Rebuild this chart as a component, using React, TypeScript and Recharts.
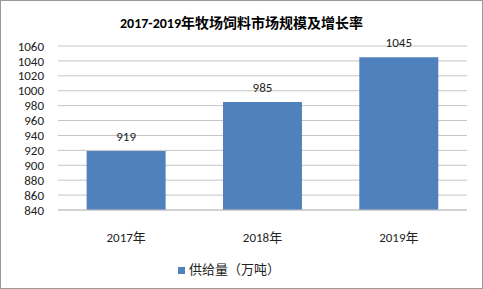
import { BarChart, Bar, XAxis, YAxis, CartesianGrid, Legend, LabelList } from "recharts";

const years = ["2017年", "2018年", "2019年"];
const supply = [919, 985, 1045];
const yTicks = [840, 860, 880, 900, 920, 940, 960, 980, 1000, 1020, 1040, 1060];

const data = years.map((year, i) => ({ year, supply: supply[i] }));

const font = "Calibri, Carlito, 'Liberation Sans', 'Noto Sans CJK SC', sans-serif";

export default function App() {
  return (
    <div
      style={{
        position: "fixed",
        left: 0,
        top: 0,
        width: 483,
        height: 289,
        boxSizing: "border-box",
        border: "1px solid #9a9a9a",
        background: "#fff",
        fontFamily: font,
      }}
    >
      <div
        style={{
          position: "absolute",
          top: 11,
          width: "100%",
          textAlign: "center",
          fontSize: 14,
          fontWeight: "bold",
          color: "#000",
        }}
      >
        2017-2019年牧场饲料市场规模及增长率
      </div>
      <BarChart
        width={481}
        height={287}
        data={data}
        margin={{ top: 45, right: 15, left: 0, bottom: 0 }}
        barCategoryGap="21%"
      >
        <CartesianGrid vertical={false} stroke="#c4c4c4" />
        <XAxis
          dataKey="year"
          tickLine={false}
          axisLine={{ stroke: "#c4c4c4" }}
          tick={{ fontSize: 13, fill: "#222" }}
          tickMargin={17}
          height={49}
        />
        <YAxis
          width={57}
          domain={[840, 1060]}
          ticks={yTicks}
          interval={0}
          tickLine={false}
          axisLine={false}
          tick={{ fontSize: 13, fill: "#222" }}
          tickMargin={8}
        />
        <Legend
          verticalAlign="bottom"
          iconType="square"
          iconSize={7}
          wrapperStyle={{ fontSize: 13, color: "#222", paddingBottom: 10 }}
          formatter={(v: string) => <span style={{ color: "#222" }}>{v}</span>}
        />
        <Bar dataKey="supply" name="供给量（万吨）" fill="#4f81bd" isAnimationActive={false}>
          <LabelList dataKey="supply" position="top" offset={10} style={{ fontSize: 13, fill: "#222" }} />
        </Bar>
      </BarChart>
    </div>
  );
}
